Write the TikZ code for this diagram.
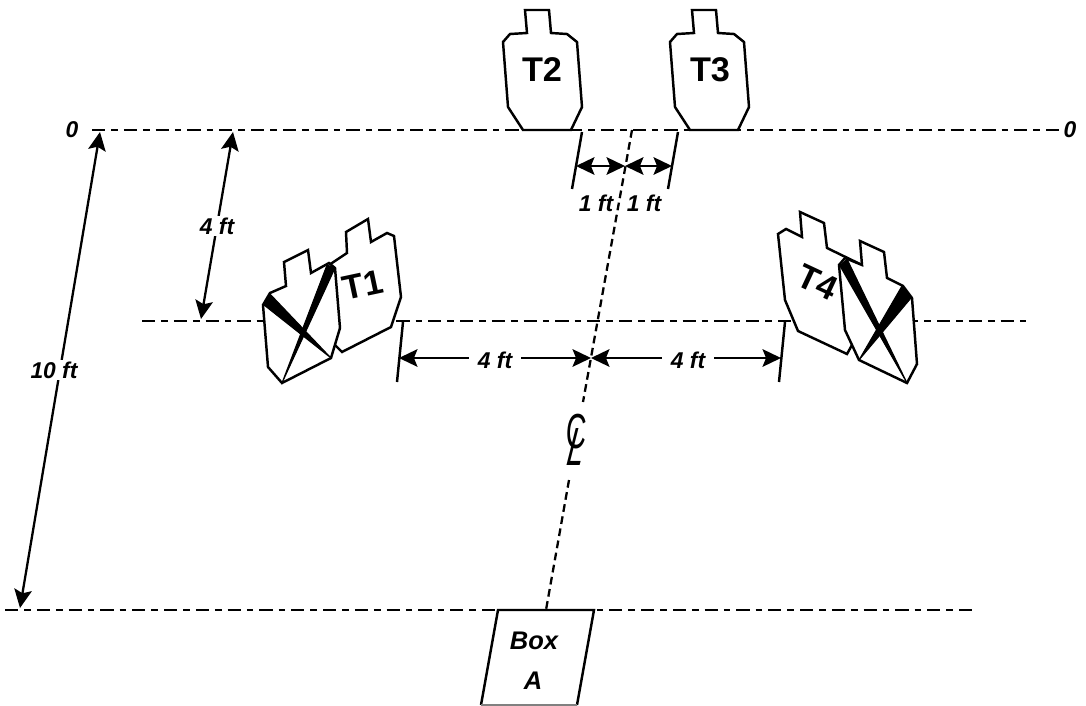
\documentclass[tikz,border=0pt]{standalone}
\usepackage{fontspec}
\setmainfont{Liberation Sans}
\usetikzlibrary{arrows.meta}
\tikzstyle{rangeline} = [line width=1.3pt, dash pattern=on 7.5pt off 3.4pt on 3.8pt off 3.4pt]
\tikzstyle{centerline} = [line width=1.3pt, dash pattern=on 4.4pt off 2.6pt]
\tikzstyle{target} = [line width=1.4pt, draw=black, fill=white, line join=miter]
\tikzstyle{wedge} = [fill=black, draw=black, line width=0.6pt, line join=round]
\tikzstyle{ext} = [line width=1.4pt]
\tikzstyle{arrow} = [line width=1.3pt, {Stealth[length=10.5pt,width=10pt,inset=2pt]}-{Stealth[length=10.5pt,width=10pt,inset=2pt]}]
\tikzstyle{dimlabel} = [font=\fontsize{13}{15}\selectfont\bfseries\itshape, inner sep=1pt, fill=white]
\tikzstyle{tname} = [font=\fontsize{19.5}{22}\selectfont\bfseries, inner sep=0pt]
\tikzstyle{boxname} = [font=\fontsize{14.5}{18}\selectfont\bfseries\itshape, inner sep=0pt]
\begin{document}
\begin{tikzpicture}[x=0.02cm,y=-0.02cm]
	\useasboundingbox (0,0) rectangle (1086,706);
	% Range lines
	\coordinate (top_l) at (92,130);
	\coordinate (top_r) at (1060,130);
	\coordinate (mid_l) at (142,321);
	\coordinate (mid_r) at (1032,321);
	\coordinate (low_l) at (5,610);
	\coordinate (low_r) at (975,610);
	\draw [rangeline] (top_l) -- (top_r);
	\draw [rangeline] (mid_l) -- (mid_r);
	\draw [rangeline] (low_l) -- (low_r);
	
	% Center line
	\coordinate (cl_top) at (632,130);
	\coordinate (cl_gap_a) at (583,402);
	\coordinate (cl_gap_b) at (569,480);
	\coordinate (cl_low) at (546,610);
	\draw [centerline] (cl_top) -- (cl_gap_a);
	\draw [centerline] (cl_gap_b) -- (cl_low);
	\node (cl_c) at (577,432) [inner sep=0pt, transform shape, xscale=0.57, xslant=0.1, font=\fontsize{28}{30}\selectfont] {C};
	\node (cl_l) at (577,447) [inner sep=0pt, transform shape, xslant=0.25, yscale=1.8, font=\fontsize{17}{20}\selectfont] {L};
	
	% Targets T2 and T3
	\draw [target] (523,130) -- (508,107) -- (503,42) -- (510,34) -- (527,33) -- (525,10) -- (549,10) -- (551,33) -- (567,34) -- (577,42) -- (582,107) -- (571,130) -- cycle;
	\draw [target] (690,130) -- (675,107) -- (670,42) -- (677,34) -- (694,33) -- (692,10) -- (716,10) -- (718,33) -- (734,34) -- (744,42) -- (749,107) -- (738,130) -- cycle;
	\node (t2) at (542,70) [tname] {T2};
	\node (t3) at (710,70) [tname] {T3};
	
	% Targets T1 and T4, with the crossed no-shoot in front
	\draw [target] (329,265) -- (347,253) -- (346,232) -- (368,219) -- (371,242) -- (387,233) -- (394,236) -- (401,297) -- (391,327) -- (342,352) -- (330,340) -- cycle;
	\node (t1) at (363,285) [tname, rotate=12] {T1};
	\draw [target] (263,305) -- (270,293) -- (286,286) -- (284,262) -- (308,250) -- (311,273) -- (329,263) -- (335,268) -- (340,328) -- (331,358) -- (282,383) -- (268,367) -- cycle;
	\fill [wedge] (264,305) -- (270,294) -- (331,358) -- cycle;
	\fill [wedge] (327,265) -- (335,268) -- (282,383) -- cycle;
	
	\draw [target] (778,234) -- (786,229) -- (802,237) -- (800,212) -- (824,223) -- (827,248) -- (862,265) -- (852,345) -- (847,354) -- (798,331) -- (785,300) -- cycle;
	\node (t4) at (818,282) [tname, rotate=-25] {T4};
	\draw [target] (839,265) -- (845,258) -- (862,265) -- (860,241) -- (884,252) -- (887,278) -- (903,286) -- (912,298) -- (917,364) -- (907,383) -- (859,360) -- (845,330) -- cycle;
	\fill [wedge] (840,266) -- (847,259) -- (907,383) -- cycle;
	\fill [wedge] (902,286) -- (911,298) -- (859,360) -- cycle;
	
	% Box
	\coordinate (box_a) at (498,610);
	\coordinate (box_b) at (594,610);
	\coordinate (box_c) at (577,705);
	\coordinate (box_d) at (481,705);
	\draw [ext] (box_d) -- (box_a) -- (box_b) -- (box_c);
	\draw [gray, line width=0.6pt] (box_d) -- (box_c);
	\node (box) at (534,641) [boxname] {Box};
	\node (a) at (533,681) [boxname] {A};
	
	% Zero marks
	\node (zero_l) at (72,130) [dimlabel, fill=none] {0};
	\node (zero_r) at (1070,130) [dimlabel, fill=none] {0};
	
	% Distances from the far line
	\coordinate (ten_a) at (100,132);
	\coordinate (ten_b) at (20,608);
	\coordinate (four_a) at (233,132);
	\coordinate (four_b) at (201,319);
	\draw [arrow] (ten_a) -- (ten_b);
	\draw [arrow] (four_a) -- (four_b);
	\node (ten_ft) at (54,370) [dimlabel] {10 ft};
	\node (four_ft) at (217,226) [dimlabel] {4 ft};
	
	% One foot marks
	\coordinate (ext_b) at (582,132);
	\coordinate (ext_b_end) at (572,189);
	\coordinate (ext_c) at (678,132);
	\coordinate (ext_c_end) at (668,189);
	\coordinate (one_l) at (576,166);
	\coordinate (one_m) at (625,166);
	\coordinate (one_r) at (672,166);
	\draw [ext] (ext_b) -- (ext_b_end);
	\draw [ext] (ext_c) -- (ext_c_end);
	\draw [arrow] (one_l) -- (one_m);
	\draw [arrow] (one_m) -- (one_r);
	\node (one_ft_l) at (596,203) [dimlabel] {1 ft};
	\node (one_ft_r) at (644,203) [dimlabel] {1 ft};
	
	% Four foot marks
	\coordinate (ext_a) at (403,322);
	\coordinate (ext_a_end) at (397,382);
	\coordinate (ext_d) at (785,322);
	\coordinate (ext_d_end) at (779,382);
	\coordinate (mid_a) at (399,358);
	\coordinate (mid_m) at (591,358);
	\coordinate (mid_d) at (781,358);
	\draw [ext] (ext_a) -- (ext_a_end);
	\draw [ext] (ext_d) -- (ext_d_end);
	\draw [arrow] (mid_a) -- (mid_m);
	\draw [arrow] (mid_m) -- (mid_d);
	\node (four_ft_l) at (495,360) [dimlabel, inner xsep=5pt] {4 ft};
	\node (four_ft_r) at (688,360) [dimlabel, inner xsep=5pt] {4 ft};
\end{tikzpicture}
\end{document}
